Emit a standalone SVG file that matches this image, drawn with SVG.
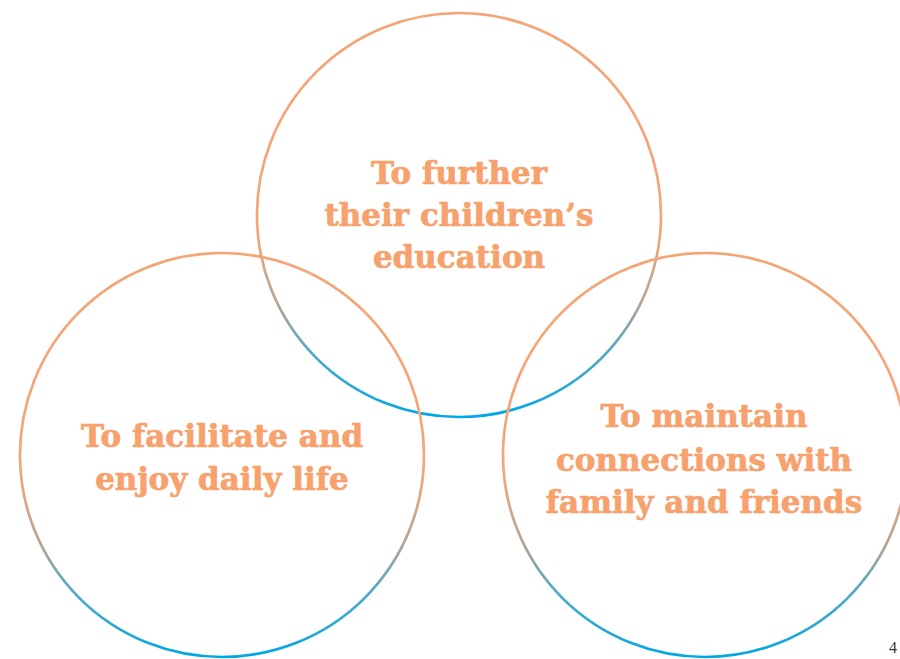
<svg xmlns="http://www.w3.org/2000/svg" width="900" height="659" viewBox="0 0 900 659">
<defs>
<linearGradient id="ring" x1="0" y1="0" x2="0" y2="1">
<stop offset="0" stop-color="#F6A474"/>
<stop offset="0.55" stop-color="#F3A678"/>
<stop offset="0.72" stop-color="#B5A595"/>
<stop offset="0.84" stop-color="#4FAAC6"/>
<stop offset="1" stop-color="#00A7E6"/>
</linearGradient>
<style>
.c{fill:none;stroke:url(#ring);stroke-width:2.7}
.t{font-family:"DejaVu Serif","Liberation Serif",serif;font-weight:bold;font-size:31px;fill:#F7A16D;stroke:#F7A16D;stroke-width:0.7;text-anchor:middle}
.n{font-family:"Liberation Serif",serif;font-size:16px;fill:#333}
</style>
</defs>
<rect width="900" height="659" fill="#fff"/>
<g id="top">
<circle class="c" cx="459" cy="215" r="202"/>
<text class="t" x="459" y="184">To further</text>
<text class="t" x="459" y="226">their children’s</text>
<text class="t" x="459" y="268">education</text>
</g>
<g id="left">
<circle class="c" cx="222" cy="455" r="202"/>
<text class="t" x="222" y="447">To facilitate and</text>
<text class="t" x="222" y="490">enjoy daily life</text>
</g>
<g id="right">
<circle class="c" cx="705" cy="455" r="202"/>
<text class="t" x="704" y="427">To maintain</text>
<text class="t" x="704" y="471">connections with</text>
<text class="t" x="704" y="513">family and friends</text>
</g>
<g id="connectors"/>
<text class="n" x="889" y="653">4</text>
</svg>
